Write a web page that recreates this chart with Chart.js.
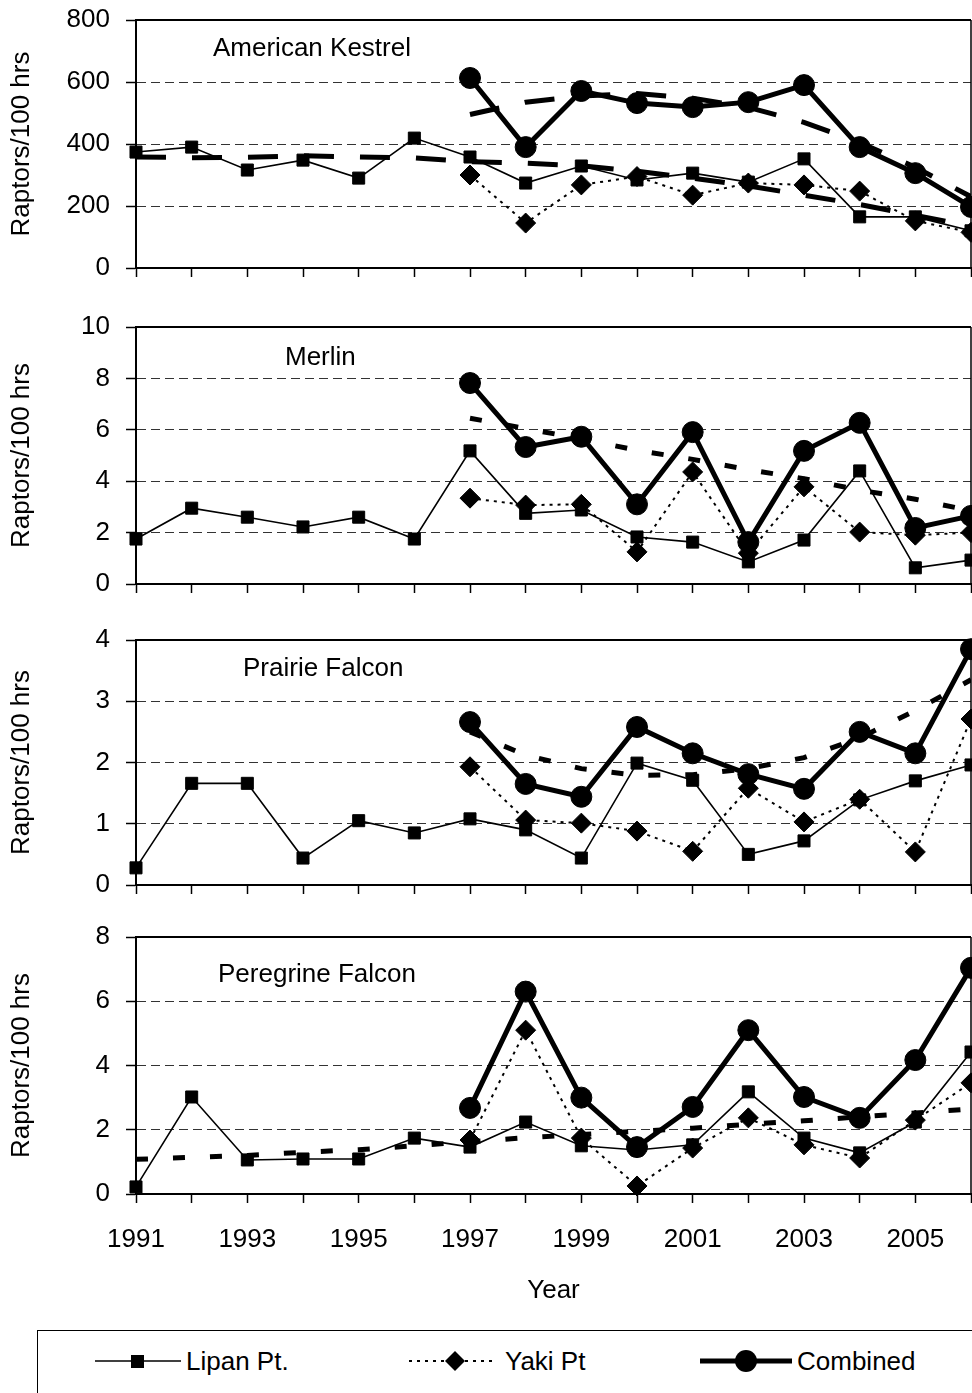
<!DOCTYPE html>
<html>
<head>
<meta charset="utf-8">
<script src="https://cdn.jsdelivr.net/npm/chart.js@4.4.1/dist/chart.umd.min.js"></script>
<style>
  body { margin: 0; background: #fff; width: 972px; height: 1393px; overflow: hidden; position: relative;
         font-family: "Liberation Sans", Arial, sans-serif; color: #000; }
  canvas { position: absolute; left: 0; }
  .ptitle { position: absolute; font-size: 26px; line-height: 26px; white-space: nowrap; }
  #legend { position: absolute; left: 37px; top: 1330px; width: 960px; height: 100px; border: 1px solid #000; }
  #legend svg, #legend span { position: absolute; }
  #legend span { font-size: 26px; line-height: 26px; top: 17px; white-space: nowrap; }
  #legend svg { top: 15px; }
</style>
</head>
<body>
<canvas id="c1" width="972" height="312" style="top:-12px"></canvas>
<canvas id="c2" width="972" height="321" style="top:295px"></canvas>
<canvas id="c3" width="972" height="309" style="top:608px"></canvas>
<canvas id="c4" width="992" height="410" style="top:905px"></canvas>

<div class="ptitle" style="left:213px;top:34px">American Kestrel</div>
<div class="ptitle" style="left:285px;top:343px">Merlin</div>
<div class="ptitle" style="left:243px;top:654px">Prairie Falcon</div>
<div class="ptitle" style="left:218px;top:960px">Peregrine Falcon</div>

<div id="legend">
  <svg style="left:57px" width="86" height="30">
    <line x1="0" y1="15" x2="86" y2="15" stroke="#000" stroke-width="1.6"/>
    <rect x="36" y="9" width="13" height="13" fill="#000"/>
  </svg>
  <span style="left:148px">Lipan Pt.</span>
  <svg style="left:371px" width="84" height="30">
    <line x1="0" y1="15" x2="84" y2="15" stroke="#000" stroke-width="2" stroke-dasharray="3 5"/>
    <polygon points="36,15 46,5 56,15 46,25" fill="#000"/>
  </svg>
  <span style="left:467px">Yaki Pt</span>
  <svg style="left:662px" width="92" height="30">
    <line x1="0" y1="15" x2="92" y2="15" stroke="#000" stroke-width="5"/>
    <circle cx="46" cy="15" r="11" fill="#000"/>
  </svg>
  <span style="left:759px">Combined</span>
</div>

<script>
// years
const years = [1991, 1992, 1993, 1994, 1995, 1996, 1997, 1998, 1999, 2000, 2001, 2002, 2003, 2004, 2005, 2006];
const siteYears = [1997, 1998, 1999, 2000, 2001, 2002, 2003, 2004, 2005, 2006];

// American Kestrel
const kestrelLipan = [374, 390, 316, 348, 290, 419, 358, 274, 329, 284, 306, 277, 352, 165, 165, 120];
const kestrelYaki = [300, 145, 268, 295, 235, 274, 268, 248, 152, 115];
const kestrelCombined = [613, 390, 571, 532, 519, 535, 590, 390, 306, 197];
const kestrelLipanTrend = [358, 356, 357, 362, 358, 355, 343, 338, 330, 312, 290, 265, 235, 205, 170, 135];
const kestrelCombinedTrend = [495, 535, 555, 563, 548, 518, 470, 405, 325, 230];

// Merlin
const merlinLipan = [1.75, 2.95, 2.6, 2.22, 2.6, 1.75, 5.18, 2.75, 2.88, 1.83, 1.63, 0.86, 1.71, 4.4, 0.63, 0.93];
const merlinYaki = [3.34, 3.07, 3.1, 1.25, 4.36, 1.2, 3.78, 2.02, 1.9, 2.0];
const merlinCombined = [7.82, 5.33, 5.73, 3.1, 5.91, 1.63, 5.18, 6.27, 2.18, 2.65];
const merlinCombinedTrend = [6.45, 6.05, 5.65, 5.2, 4.85, 4.45, 4.1, 3.65, 3.3, 2.85];

// Prairie Falcon
const prairieLipan = [0.28, 1.66, 1.66, 0.44, 1.05, 0.85, 1.08, 0.9, 0.44, 1.99, 1.71, 0.5, 0.72, 1.39, 1.7, 1.96];
const prairieYaki = [1.93, 1.06, 1.01, 0.88, 0.55, 1.58, 1.03, 1.4, 0.54, 2.71];
const prairieCombined = [2.66, 1.65, 1.44, 2.58, 2.15, 1.81, 1.57, 2.5, 2.15, 3.85];
const prairieCombinedTrend = [2.5, 2.12, 1.9, 1.79, 1.8, 1.9, 2.08, 2.4, 2.85, 3.35];

// Peregrine Falcon
const peregrineLipan = [0.22, 3.02, 1.06, 1.09, 1.09, 1.74, 1.46, 2.24, 1.5, 1.37, 1.53, 3.18, 1.74, 1.28, 2.24, 4.42];
const peregrineYaki = [1.68, 5.1, 1.74, 0.25, 1.43, 2.37, 1.53, 1.12, 2.3, 3.46];
const peregrineCombined = [2.68, 6.3, 3.0, 1.46, 2.71, 5.1, 3.02, 2.37, 4.17, 7.04];
const peregrineLipanTrend = [1.08, 1.14, 1.2, 1.3, 1.38, 1.5, 1.63, 1.75, 1.85, 1.95, 2.05, 2.17, 2.28, 2.4, 2.52, 2.65];

const yTitle = 'Raptors/100 hrs';
const xTitle = 'Year';

Chart.defaults.font.family = "'Liberation Sans', Arial, sans-serif";
Chart.defaults.font.size = 26;
Chart.defaults.color = '#000';

function pts(xs, ys) {
    return ys.map((v, i) => ({ x: xs[i], y: v }));
}

function lipanSet(vals) {
    return { label: 'Lipan Pt.', data: pts(years, vals), borderColor: '#000', borderWidth: 1.6,
             pointStyle: 'rect', pointRadius: 8.5, pointBackgroundColor: '#000', pointBorderColor: '#000',
             pointBorderWidth: 1, order: 2, clip: false };
}
function yakiSet(vals) {
    return { label: 'Yaki Pt', data: pts(siteYears, vals), borderColor: '#000', borderWidth: 2,
             borderDash: [3, 5], pointStyle: 'rectRot', pointRadius: 10, pointBackgroundColor: '#000',
             pointBorderColor: '#000', pointBorderWidth: 1, order: 1, clip: false };
}
function combinedSet(vals) {
    return { label: 'Combined', data: pts(siteYears, vals), borderColor: '#000', borderWidth: 5,
             pointStyle: 'circle', pointRadius: 10.5, pointBackgroundColor: '#000', pointBorderColor: '#000',
             pointBorderWidth: 1, order: 0, clip: false };
}
function trendSet(xs, vals, dash) {
    return { label: 'trend', data: pts(xs, vals), borderColor: '#000', borderWidth: 5, borderDash: dash,
             borderCapStyle: 'butt', pointRadius: 0, order: 3 };
}

// top and right edges of the plot box
const framePlugin = {
    id: 'frame',
    beforeDatasetsDraw(chart) {
        const { ctx, chartArea: a } = chart;
        ctx.save();
        ctx.strokeStyle = '#000';
        ctx.lineWidth = 2;
        ctx.beginPath();
        ctx.moveTo(a.left, a.top);
        ctx.lineTo(a.right, a.top);
        ctx.stroke();
        ctx.lineWidth = 1.5;
        ctx.beginPath();
        ctx.moveTo(a.right, a.top);
        ctx.lineTo(a.right, a.bottom);
        ctx.stroke();
        ctx.restore();
    }
};

function makePanel(id, datasets, yMax, yStep, bottom) {
    const ctx = document.getElementById(id).getContext('2d');
    return new Chart(ctx, {
        type: 'line',
        data: { datasets: datasets },
        options: {
            responsive: false,
            animation: false,
            devicePixelRatio: 1,
            layout: { autoPadding: false, padding: { top: 32, right: 1, bottom: bottom ? 6 : 22, left: 0 } },
            plugins: { legend: { display: false }, tooltip: { enabled: false } },
            scales: {
                x: {
                    type: 'linear',
                    min: 1991,
                    max: 2006,
                    ticks: {
                        stepSize: 1,
                        autoSkip: false,
                        maxRotation: 0,
                        display: bottom,
                        padding: 21,
                        callback: (v) => (v % 2 === 1 ? String(v) : '')
                    },
                    grid: { drawOnChartArea: false, drawTicks: true, tickLength: 9, tickColor: '#000', tickWidth: 1.5 },
                    border: { display: true, color: '#000', width: 2 },
                    title: { display: bottom, text: xTitle, padding: { top: 0, bottom: 3 } },
                    afterFit: (s) => { s.height = bottom ? 115 : 10; }
                },
                y: {
                    min: 0,
                    max: yMax,
                    ticks: { stepSize: yStep, padding: 16 },
                    grid: {
                        color: (c) => (c.tick && c.tick.value > 0 && c.tick.value < yMax ? '#333' : 'rgba(0,0,0,0)'),
                        lineWidth: 1,
                        tickLength: 10,
                        tickColor: '#000',
                        tickWidth: 1.5
                    },
                    border: { color: '#000', width: 2, dash: [9, 5] },
                    title: { display: true, text: yTitle, padding: { top: 6, bottom: 0 } },
                    afterFit: (s) => { s.width = 136; }
                }
            }
        },
        plugins: [framePlugin]
    });
}

makePanel('c1', [
    combinedSet(kestrelCombined), yakiSet(kestrelYaki), lipanSet(kestrelLipan),
    trendSet(years, kestrelLipanTrend, [30, 26]), trendSet(siteYears, kestrelCombinedTrend, [30, 26])
], 800, 200, false);

makePanel('c2', [
    combinedSet(merlinCombined), yakiSet(merlinYaki), lipanSet(merlinLipan),
    trendSet(siteYears, merlinCombinedTrend, [12, 25])
], 10, 2, false);

makePanel('c3', [
    combinedSet(prairieCombined), yakiSet(prairieYaki), lipanSet(prairieLipan),
    trendSet(siteYears, prairieCombinedTrend, [12, 25])
], 4, 1, false);

makePanel('c4', [
    combinedSet(peregrineCombined), yakiSet(peregrineYaki), lipanSet(peregrineLipan),
    trendSet(years, peregrineLipanTrend, [12, 25])
], 8, 2, true);
</script>
</body>
</html>
